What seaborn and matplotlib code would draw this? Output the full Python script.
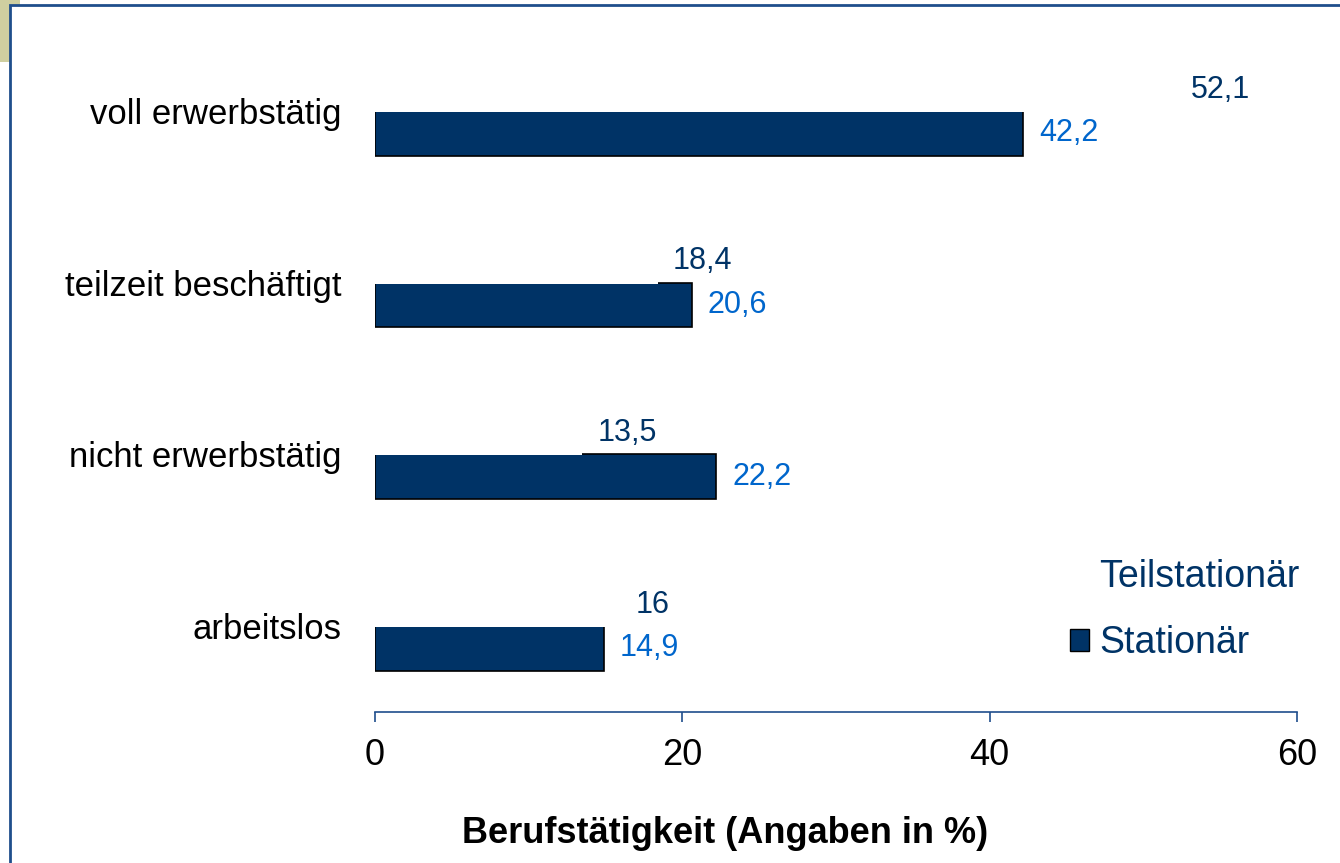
import numpy as np
import pandas as pd
import matplotlib
matplotlib.use("Agg")
import matplotlib.pyplot as plt
from matplotlib.patches import Rectangle
import seaborn as sns

# data
categories = ["voll erwerbstätig", "teilzeit beschäftigt", "nicht erwerbstätig", "arbeitslos"]
teilstationaer = [52.1, 18.4, 13.5, 16.0]
stationaer = [42.2, 20.6, 22.2, 14.9]
series_names = ["Teilstationär", "Stationär"]

NAVY = "#003366"
LIGHT_BLUE = "#0066CC"
FRAME = "#1F4E8C"

df = pd.DataFrame({
    "Kategorie": categories * 2,
    "Wert": teilstationaer + stationaer,
    "Gruppe": [series_names[0]] * 4 + [series_names[1]] * 4,
})

sns.set_style("white")
plt.rcParams["font.family"] = ["Liberation Sans", "DejaVu Sans"]

fig = plt.figure(figsize=(13.4, 8.63), dpi=100)
ax = fig.add_axes([375 / 1340, 1 - 712 / 863, (1297 - 375) / 1340, (712 - 25) / 863])
ax.set_facecolor("none")

sns.barplot(data=df, y="Kategorie", x="Wert", hue="Gruppe", order=categories,
            hue_order=series_names, palette=["white", NAVY], orient="h",
            width=0.52, dodge=True, ax=ax, legend=False, saturation=1)

n = len(categories)
teil_bars = ax.patches[:n]
stat_bars = ax.patches[n:2 * n]
for p in stat_bars:
    p.set_edgecolor("black")
    p.set_linewidth(1.2)
    p.set_zorder(2)
# Teilstationär bars are white and hide the top edge of the navy bars
for p in teil_bars:
    p.set_edgecolor("none")
    p.set_zorder(3)
    p.set_y(p.get_y() + 0.006)

# value labels
for p, v in zip(teil_bars, teilstationaer):
    ax.annotate(f"{v:g}".replace(".", ","), (v, p.get_y() + p.get_height() / 2),
                xytext=(15, 0), textcoords="offset pixels",
                ha="left", va="center", fontsize=22, color=NAVY, zorder=5)
for p, v in zip(stat_bars, stationaer):
    ax.annotate(f"{v:g}".replace(".", ","), (v, p.get_y() + p.get_height() / 2),
                xytext=(16, 0), textcoords="offset pixels",
                ha="left", va="center", fontsize=22, color=LIGHT_BLUE, zorder=5)

ax.set_xlim(0, 60)
ax.set_ylim(n - 0.5, -0.5)
ax.set_xticks([0, 20, 40, 60])
ax.tick_params(axis="x", direction="out", length=7.5, width=1.2, color=FRAME,
               labelsize=26, pad=11, bottom=True, labelcolor="black")
ax.tick_params(axis="y", length=0, labelsize=25, pad=24, labelcolor="black")
ax.set_xlabel("")
ax.set_ylabel("")
for s in ["top", "right", "left"]:
    ax.spines[s].set_visible(False)
ax.spines["bottom"].set_color(FRAME)
ax.spines["bottom"].set_linewidth(1.2)

# legend
handles = [Rectangle((0, 0), 1, 1, facecolor="white", edgecolor="none"),
           Rectangle((0, 0), 1, 1, facecolor=NAVY, edgecolor="black")]
leg = ax.legend(handles, series_names, loc="center left", bbox_to_anchor=(1070 / 1340, 1 - 610 / 863),
                bbox_transform=fig.transFigure, frameon=False, fontsize=27,
                borderpad=0, borderaxespad=0,
                handlelength=0.5, handleheight=0.5, handletextpad=0.27, labelspacing=0.82)
for t in leg.get_texts():
    t.set_color(NAVY)

fig.text(725 / 1340, 1 - 833 / 863, "Berufstätigkeit (Angaben in %)", ha="center", va="center",
         fontsize=26, fontweight="bold", color="black")

# frame and corner decoration (behind the axes)
fig.patches.append(Rectangle((0, 1 - 62 / 863), 20 / 1340, 62 / 863, transform=fig.transFigure,
                             facecolor="#CFCFA0", edgecolor="none", zorder=-3))
fig.patches.append(Rectangle((10 / 1340, -0.01), 1.02, 1 - 5.5 / 863 + 0.01, transform=fig.transFigure,
                             facecolor="white", edgecolor=FRAME, linewidth=2, zorder=-2))

fig.savefig("out.png", dpi=100)
